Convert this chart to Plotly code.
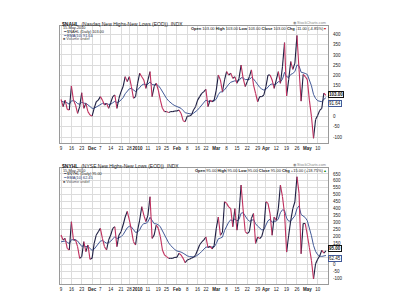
import plotly.graph_objects as go
import pandas as pd

# ---------------- data ----------------
holidays = ["2009-11-26", "2009-12-25", "2010-01-01", "2010-01-18", "2010-02-15", "2010-04-02"]
dates = [d.strftime("%Y-%m-%d") for d in pd.bdate_range("2009-11-09", "2010-05-14")
         if d.strftime("%Y-%m-%d") not in holidays]

tick_dates = ["2009-11-09", "2009-11-16", "2009-11-23", "2009-12-01", "2009-12-07", "2009-12-14",
              "2009-12-21", "2009-12-28", "2010-01-04", "2010-01-11", "2010-01-19", "2010-01-25",
              "2010-02-01", "2010-02-08", "2010-02-16", "2010-02-22", "2010-03-01", "2010-03-08",
              "2010-03-15", "2010-03-22", "2010-03-29", "2010-04-05", "2010-04-12", "2010-04-19",
              "2010-04-26", "2010-05-03", "2010-05-10"]
tick_labels = ["9", "16", "23", "<b>Dec</b>", "7", "14", "21", "28", "<b>2010</b>", "11", "19", "25",
               "<b>Feb</b>", "8", "16", "22", "<b>Mar</b>", "8", "15", "22", "29", "<b>Apr</b>", "12",
               "19", "26", "<b>May</b>", "10"]

nahl_ticks = [-100, -50, 0, 50, 100, 150, 200, 250, 300, 350, 400]
nahl_tick_text = ["-100", "-50", "0", "", "", "150", "200", "250", "300", "350", "400"]
nyhl_ticks = [-100, -50, 0, 50, 100, 150, 200, 250, 300, 350, 400, 450, 500, 550, 600, 650]
nyhl_tick_text = ["-100", "-50", "0", "", "", "150", "200", "250", "300", "350", "400", "450",
                  "500", "550", "600", "650"]

nahl = [84, 48, 80, 35, 32, 149, 80, 56, 15, 48,
        116, 40, 64, 24, 7, 2, 40, 72, 80, 97,
        80, 56, 64, 40, 67, 97, 105, 40, 89, 121,
        146, 194, 170, 194, 146, 89, 97, 162, 211, 194,
        178, 137, 178, 219, 97, 146, 162, 129, 80, 40,
        24, 24, 19, 24, 24, 27, 27, 32, 15, -20,
        -25, 2, 2, 7, 32, 48, 80, 97, 113, 121,
        132, 48, 80, 72, 80, 129, 202, 178, 121, 178,
        219, 202, 211, 186, 194, 162, 186, 251, 186, 146,
        170, 194, 227, 154, 113, 72, 97, 97, 105, 146,
        202, 202, 178, 137, 178, 219, 162, 243, 360, 100,
        180, 268, 230, 260, 395, 230, 75, 205, 195, 180,
        80, 0, -106, -15, 5, 30, 40, 114, 103]
nahl_ema = [77, 71, 73, 66, 60, 76, 77, 73, 63, 60,
            70, 65, 64, 57, 48, 40, 40, 46, 52, 60,
            64, 62, 63, 59, 60, 67, 74, 68, 72, 81,
            92, 111, 122, 135, 137, 128, 122, 130, 144, 153,
            158, 154, 158, 169, 156, 154, 156, 151, 138, 120,
            103, 88, 76, 66, 59, 53, 48, 45, 40, 29,
            19, 16, 14, 12, 16, 22, 32, 44, 57, 68,
            80, 74, 75, 75, 76, 85, 107, 120, 120, 130,
            147, 157, 167, 170, 174, 172, 175, 189, 188, 180,
            179, 181, 190, 183, 170, 153, 142, 134, 129, 132,
            145, 155, 159, 155, 159, 170, 169, 182, 215, 194,
            191, 205, 210, 219, 251, 247, 216, 214, 210, 205,
            182, 150, 108, 88, 77, 73, 72, 84, 91.64]

nyhl = [210, 174, 186, 114, 102, 306, 174, 174, 126, 42,
        54, 162, 90, 138, 35, 42, 150, 210, 234, 258,
        186, 126, 102, 174, 210, 258, 270, 126, 210, 234,
        282, 340, 380, 320, 246, 162, 138, 246, 318, 414,
        354, 306, 354, 486, 186, 210, 282, 258, 198, 102,
        66, 54, 42, 42, 42, 49, 49, 78, 66, 42,
        11, 30, 35, 42, 49, 66, 102, 140, 160, 175,
        196, 120, 130, 110, 135, 256, 340, 208, 230, 450,
        438, 413, 400, 270, 400, 245, 365, 570, 390, 235,
        220, 235, 330, 365, 150, 196, 184, 200, 256, 450,
        438, 365, 208, 340, 316, 400, 570, 486, 365, 87,
        208, 316, 400, 450, 630, 510, 75, 293, 293, 210,
        120, 27, -106, 3, 35, 60, 100, 80, 95]
nyhl_ema = [161, 163, 167, 158, 148, 176, 176, 176, 167, 144,
            128, 134, 126, 128, 111, 99, 108, 127, 146, 166,
            170, 162, 151, 155, 165, 182, 198, 185, 190, 198,
            213, 236, 262, 273, 268, 249, 229, 232, 247, 278,
            292, 294, 305, 338, 310, 292, 290, 284, 269, 238,
            207, 179, 154, 134, 117, 105, 95, 92, 87, 79,
            67, 60, 55, 53, 52, 55, 63, 77, 92, 107,
            123, 123, 124, 122, 124, 148, 183, 188, 195, 242,
            277, 302, 320, 311, 327, 312, 322, 367, 371, 346,
            324, 310, 313, 323, 291, 274, 258, 247, 249, 285,
            313, 323, 302, 309, 310, 326, 371, 392, 387, 332,
            310, 311, 327, 349, 400, 420, 358, 346, 336, 313,
            265, 205, 135, 92, 68, 58, 56, 58, 62.45]

# ---------------- style ----------------
UP_C = "#1e1e42"
DOWN_C = "#c0305e"
EMA_C = "#435a98"
GRID_C = "#dcdcdc"
FONT = "Liberation Sans"

n = min(len(dates), len(nahl))
xs = list(range(n))
tickvals = [dates.index(d) for d in tick_dates]

fig = go.Figure()


def add_panel(vals, ema, xa, ya):
    fig.add_trace(go.Scatter(x=xs, y=ema[:n], mode="lines", line=dict(color=EMA_C, width=1),
                             xaxis=xa, yaxis=ya, hoverinfo="skip"))
    ux, uy, dx, dy = [], [], [], []
    for i in range(n - 1):
        if vals[i + 1] >= vals[i]:
            ux += [xs[i], xs[i + 1], None]
            uy += [vals[i], vals[i + 1], None]
        else:
            dx += [xs[i], xs[i + 1], None]
            dy += [vals[i], vals[i + 1], None]
    fig.add_trace(go.Scatter(x=ux, y=uy, mode="lines", line=dict(color=UP_C, width=1.1),
                             xaxis=xa, yaxis=ya, connectgaps=False, hoverinfo="skip"))
    fig.add_trace(go.Scatter(x=dx, y=dy, mode="lines", line=dict(color=DOWN_C, width=1.1),
                             xaxis=xa, yaxis=ya, connectgaps=False, hoverinfo="skip"))


add_panel(nahl, nahl_ema, "x", "y")
add_panel(nyhl, nyhl_ema, "x2", "y2")

xdom = [0.15, 0.82]
xcommon = dict(domain=xdom, range=[-0.5, 129], tickmode="array", tickvals=tickvals,
               ticktext=tick_labels, tickangle=0, showgrid=True, gridcolor=GRID_C, gridwidth=1,
               tickfont=dict(size=4.5, color="#222", family=FONT), ticks="", ticklabelstandoff=1,
               showline=True, linecolor="#9a9a9a", linewidth=1, mirror=True, zeroline=False)
ycommon = dict(side="right", tickmode="array", showgrid=True, gridcolor=GRID_C, gridwidth=1,
               tickfont=dict(size=4.5, color="#222", family=FONT), ticks="", ticklabelstandoff=3,
               showline=True, linecolor="#9a9a9a", linewidth=1, mirror=True, zeroline=False)

fig.update_layout(
    width=400, height=300, margin=dict(l=0, r=0, t=0, b=0),
    paper_bgcolor="white", plot_bgcolor="white", showlegend=False,
    font=dict(family=FONT, size=5, color="#222"),
    xaxis=dict(anchor="y", **xcommon),
    yaxis=dict(anchor="x", domain=[0.5233, 0.9133], range=[-129, 441],
               tickvals=nahl_ticks, ticktext=nahl_tick_text, **ycommon),
    xaxis2=dict(anchor="y2", **xcommon),
    yaxis2=dict(anchor="x2", domain=[0.0533, 0.44], range=[-143, 693],
                tickvals=nyhl_ticks, ticktext=nyhl_tick_text, **ycommon),
)


def txt(x, y, s, anchor="left", size=4, color="#222"):
    fig.add_annotation(xref="paper", yref="paper", x=x, y=y, text=s, showarrow=False,
                       xanchor=anchor, yanchor="middle", font=dict(size=size, color=color, family=FONT))


def header(ytitle, yhdr, ylegs, sym, name, last, ema_last, chg, arrow, arrow_c):
    txt(0.15, ytitle, f"<b>{sym}</b>  ({name})  INDX", size=5)
    txt(0.82, ytitle + 0.003, "\u25c9 StockCharts.com", anchor="right", size=3.8, color="#888")
    txt(0.152, yhdr, "15-May-2010", size=3.8)
    txt(0.82, yhdr,
        f"<b>Open</b> {last} <b>High</b> {last} <b>Low</b> {last} <b>Close</b> {last} "
        f"<b>Chg</b> {chg} <span style='color:{arrow_c}'>{arrow}</span>", anchor="right", size=4)
    txt(0.152, ylegs[0], f"<span style='color:{UP_C}'>\u2501</span> {sym} (Daily) {last}", size=3.8)
    txt(0.152, ylegs[1], f"<span style='color:{EMA_C}'>\u2501</span> EMA(10) {ema_last}", size=3.8,
        color="#223366")
    txt(0.152, ylegs[2], "<span style='color:#666'>\u25a0</span> Volume undef", size=3.8, color="#555")


header(0.92, 0.905, [0.893, 0.881, 0.869], "$NAHL", "Nasdaq New Highs-New Lows (EOD)",
       "103.00", "91.64", "-11.00 (-4.85%)", "\u25be", "#d00000")
header(0.447, 0.431, [0.419, 0.407, 0.395], "$NYHL", "NYSE New Highs-New Lows (EOD)",
       "95.00", "62.45", "+15.00 (+18.75%)", "\u25b4", "#008000")


def valbox(yref, yv, s, border, yshift):
    fig.add_annotation(xref="paper", yref=yref, x=0.821, y=yv, text=s, showarrow=False,
                       xanchor="left", yanchor="middle", bgcolor="white", bordercolor=border,
                       borderwidth=1, borderpad=0, yshift=yshift,
                       font=dict(size=4.5, color="#111", family=FONT))


valbox("y", nahl[-1], "<b>103.00</b>", "#111", 1)
valbox("y", nahl_ema[-1], "91.64", EMA_C, -6)
valbox("y2", nyhl[-1], "<b>95.00</b>", "#111", 2)
valbox("y2", nyhl_ema[-1], "62.45", EMA_C, -3)

fig.write_html("out.html")
